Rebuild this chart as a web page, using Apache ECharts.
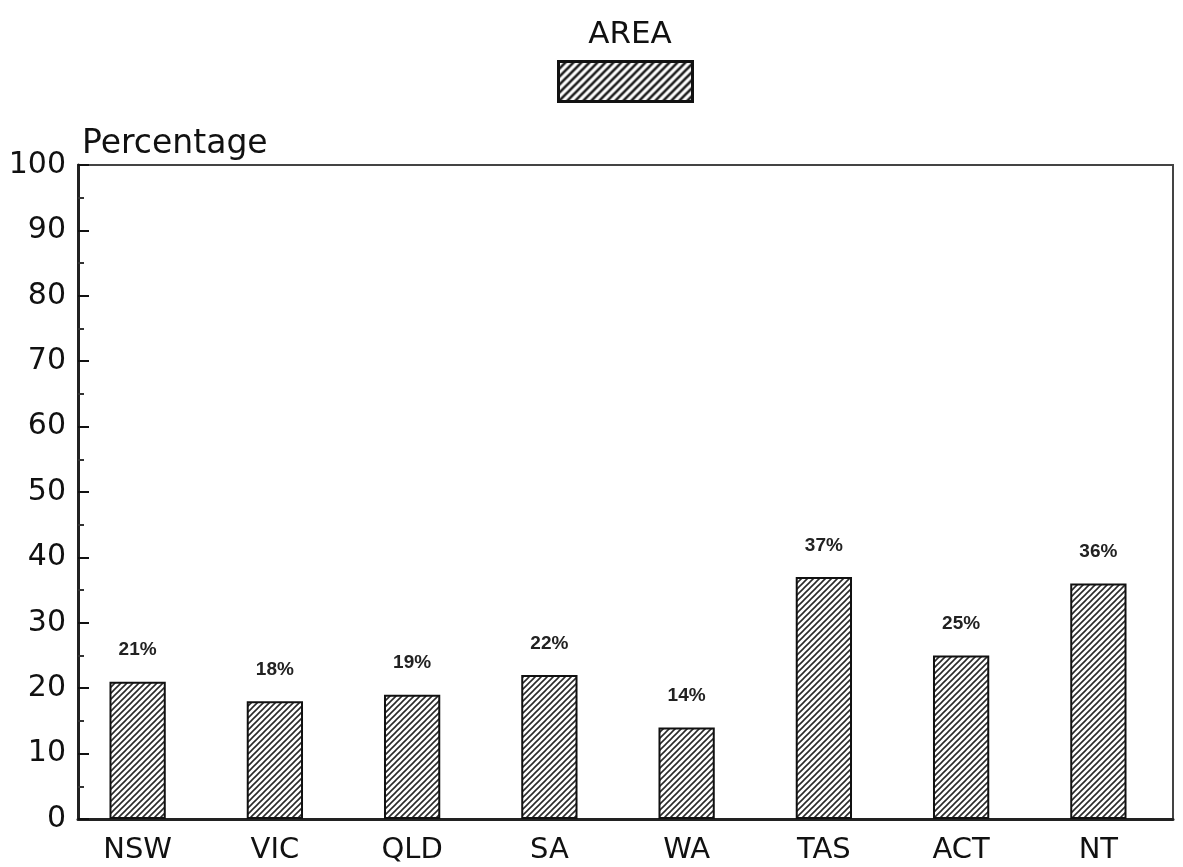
<!DOCTYPE html>
<html>
<head>
<meta charset="utf-8">
<style>
  html, body { margin: 0; padding: 0; background: #fff; }
  #chart { width: 1183px; height: 867px; }
</style>
<script src="https://cdn.jsdelivr.net/npm/echarts@6/dist/echarts.min.js"></script>
</head>
<body>
<div id="chart"></div>
<script>
// States and territories
const categories = ['NSW', 'VIC', 'QLD', 'SA', 'WA', 'TAS', 'ACT', 'NT'];
// Share of area, percent
const areaValues = [21, 18, 19, 22, 14, 37, 25, 36];
const seriesName = 'AREA';
const yAxisTitle = 'Percentage';

// Diagonal hatch tile
function makeHatch(s, w, ink) {
  const c = document.createElement('canvas');
  c.width = s; c.height = s;
  const g = c.getContext('2d');
  g.fillStyle = '#ffffff';
  g.fillRect(0, 0, s, s);
  g.strokeStyle = ink;
  g.lineWidth = w;
  g.beginPath();
  g.moveTo(-1, s + 1); g.lineTo(s + 1, -1);
  g.moveTo(-2, 2); g.lineTo(2, -2);
  g.moveTo(s - 2, s + 2); g.lineTo(s + 2, s - 2);
  g.stroke();
  return c;
}
const barHatch = { image: makeHatch(6, 1.6, '#2a2a2a'), repeat: 'repeat' };
const keyHatch = { image: makeHatch(8, 2.6, '#1a1a1a'), repeat: 'repeat' };

const FONT = 'DejaVu Sans';
const TOP = 165, BOTTOM = 48;
const chart = echarts.init(document.getElementById('chart'), null, { renderer: 'canvas' });

chart.setOption({
  backgroundColor: '#ffffff',
  animation: false,
  title: {
    text: seriesName,
    left: 625,
    textAlign: 'center',
    top: 14,
    textStyle: { fontFamily: FONT, fontSize: 31, fontWeight: 'normal', color: '#111' }
  },
  legend: {
    left: 557,
    top: 60,
    padding: 0,
    itemWidth: 134,
    itemHeight: 40,
    icon: 'rect',
    formatter: () => '',
    itemStyle: { color: keyHatch, borderColor: '#111', borderWidth: 3 },
    data: [seriesName]
  },
  grid: [
    // frame with the percentage scale
    { left: 78, right: 10, top: TOP, bottom: BOTTOM, show: true, borderColor: '#444', borderWidth: 2, backgroundColor: 'transparent' },
    // band for the bars
    { left: 69, right: 16, top: TOP, bottom: BOTTOM }
  ],
  xAxis: [
    {
      gridIndex: 0, type: 'value', min: 0, max: 1,
      axisLine: { show: true, lineStyle: { color: '#222', width: 3 } },
      axisTick: { show: false }, axisLabel: { show: false }, splitLine: { show: false }
    },
    {
      gridIndex: 1, type: 'category', data: categories,
      axisLine: { show: false },
      axisTick: { show: false },
      axisLabel: { margin: 17, fontFamily: FONT, fontSize: 29, color: '#111' }
    }
  ],
  yAxis: [
    {
      gridIndex: 0, type: 'value',
      min: 0, max: 100, interval: 10,
      name: yAxisTitle,
      nameLocation: 'end',
      nameGap: 4,
      nameTextStyle: { fontFamily: FONT, fontSize: 33, color: '#111', align: 'left', verticalAlign: 'bottom', padding: [0, 0, 0, 4] },
      axisLine: { show: true, lineStyle: { color: '#222', width: 3 } },
      axisTick: { show: true, inside: true, length: 11, lineStyle: { color: '#111', width: 2 } },
      minorTick: { show: true, splitNumber: 2, length: 6, lineStyle: { color: '#333', width: 2 } },
      splitLine: { show: false },
      axisLabel: { margin: 12, fontFamily: FONT, fontSize: 30, color: '#111' }
    },
    {
      gridIndex: 1, type: 'value', min: 0, max: 100, interval: 10,
      show: false
    }
  ],
  series: [{
    name: seriesName,
    type: 'bar',
    xAxisIndex: 1,
    yAxisIndex: 1,
    data: areaValues,
    barWidth: '41%',
    itemStyle: { color: barHatch, borderColor: '#111', borderWidth: 2 },
    label: {
      show: true,
      position: 'top',
      distance: 22,
      formatter: p => p.value + '%',
      fontFamily: 'Liberation Sans',
      fontWeight: 'bold',
      fontSize: 19,
      color: '#222'
    }
  }]
});
</script>
</body>
</html>
